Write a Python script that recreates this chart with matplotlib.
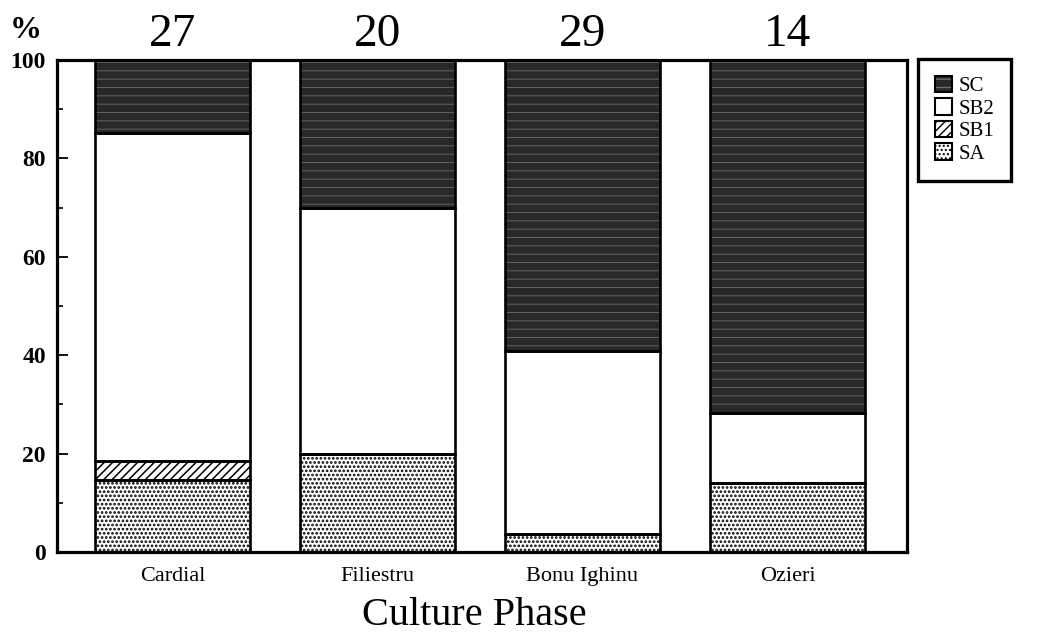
import matplotlib
matplotlib.use("Agg")
import matplotlib.pyplot as plt
from matplotlib.patches import Patch
from matplotlib.legend_handler import HandlerTuple

# Percentage composition per culture phase
categories = ["Cardial", "Filiestru", "Bonu Ighinu", "Ozieri"]
counts = [27, 20, 29, 14]
sa = [14.6, 19.9, 3.7, 14.0]
sb1 = [3.8, 0.0, 0.0, 0.0]
sb2 = [66.8, 50.0, 37.1, 14.2]
sc = [14.8, 30.1, 59.2, 71.8]

plt.rcParams["font.family"] = ["Liberation Serif", "DejaVu Serif"]

fig = plt.figure(figsize=(10.39, 6.33), dpi=100)
ax = fig.add_axes([57 / 1039, 81 / 633, 850 / 1039, 492 / 633])

x = list(range(len(categories)))
width = 0.756

styles = {
    "SA": dict(facecolor="white", hatch="....", edgecolor="black", hlw=1.3),
    "SB1": dict(facecolor="white", hatch="////", edgecolor="black", hlw=1.1),
    "SB2": dict(facecolor="white", hatch=None, edgecolor="black", hlw=1.0),
    "SC": dict(facecolor="#282828", hatch="--", edgecolor="#6e6e6e", hlw=0.6),
}

series = [("SA", sa), ("SB1", sb1), ("SB2", sb2), ("SC", sc)]
bottom = [0.0] * len(categories)
for name, vals in series:
    st = styles[name]
    with plt.rc_context({"hatch.linewidth": st["hlw"]}):
        ax.bar(x, vals, width, bottom=bottom, facecolor=st["facecolor"],
               hatch=st["hatch"], edgecolor=st["edgecolor"], linewidth=0,
               zorder=2)
    ax.bar(x, vals, width, bottom=bottom, fill=False, edgecolor="black",
           linewidth=1.9, zorder=3)
    bottom = [b + v for b, v in zip(bottom, vals)]

# sample counts above each bar
for xi, c in zip(x, counts):
    ax.text(xi, 102.8, str(c), ha="center", va="baseline", fontsize=34)

ax.set_xlim(-0.563, 3.583)
ax.set_ylim(0, 100)
ax.set_yticks(range(0, 101, 20))
ax.set_yticks(range(10, 100, 20), minor=True)
ax.set_yticklabels([str(v) for v in range(0, 101, 20)], fontsize=17,
                   fontweight="bold")
ax.set_xticks(x)
ax.set_xticklabels(categories, fontsize=16)
ax.tick_params(axis="y", which="major", direction="in", length=8, width=1.3, pad=8)
ax.tick_params(axis="y", which="minor", direction="in", length=4, width=1.2)
ax.tick_params(axis="x", direction="in", length=4, width=1.0, pad=11)
for s in ax.spines.values():
    s.set_linewidth(2.3)
    s.set_zorder(4)

fig.text(10 / 1039, 1 - 38 / 633, "%", fontsize=23, fontweight="bold",
         va="baseline", ha="left")
fig.text(474 / 1039, 1 - 625 / 633, "Culture Phase", fontsize=29,
         ha="center", va="baseline")

handles = []
labels = []
for name in ["SC", "SB2", "SB1", "SA"]:
    st = styles[name]
    with plt.rc_context({"hatch.linewidth": st["hlw"]}):
        fill = Patch(facecolor=st["facecolor"], hatch=st["hatch"],
                     edgecolor=st["edgecolor"], linewidth=0)
    outline = Patch(fill=False, edgecolor="black", linewidth=1.5)
    handles.append((fill, outline))
    labels.append(name)

leg = fig.legend(handles, labels, loc="upper left",
                 bbox_to_anchor=(918 / 1039, 1 - 59 / 633),
                 handler_map={tuple: HandlerTuple(ndivide=1, pad=0)},
                 fontsize=15, handlelength=0.85, handleheight=0.85,
                 handletextpad=0.3, labelspacing=0.1, borderpad=0.8,
                 borderaxespad=0, frameon=True, fancybox=False,
                 edgecolor="black", framealpha=1)
leg.get_frame().set_linewidth(2.4)

fig.savefig("out.png", dpi=100)
